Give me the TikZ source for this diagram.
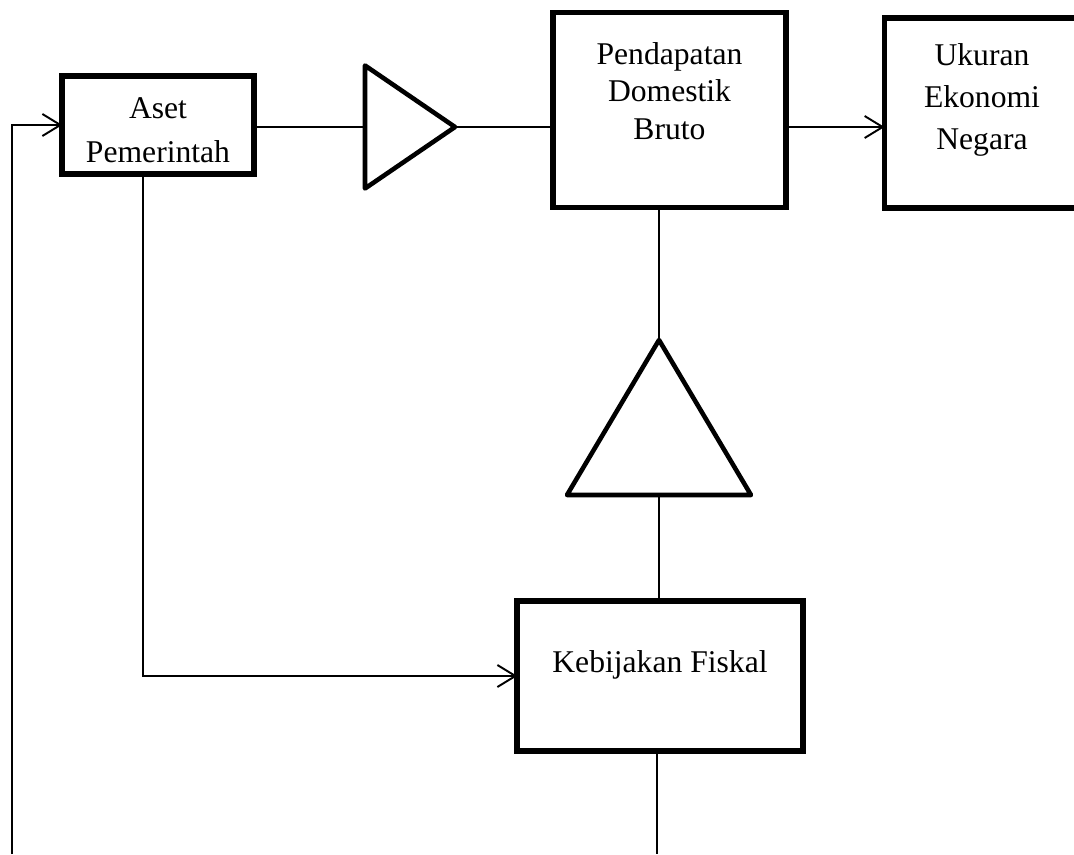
\documentclass[tikz,border=0pt]{standalone}
\usepackage{fontspec}
\setmainfont{Liberation Serif}
\usetikzlibrary{shapes.geometric, arrows.meta}
\tikzset{
  box/.style={draw, line width=3.2pt, inner sep=0pt, outer sep=0pt},
  amp/.style={isosceles triangle, isosceles triangle stretches, draw, line width=2.6pt, line join=round, inner sep=0pt, outer sep=0pt},
  link/.style={line width=1.1pt},
  arr/.style={link, -{Straight Barb[length=3.6mm, width=4.4mm, line width=1.1pt]}}
}
\begin{document}
\begin{tikzpicture}[font=\fontsize{18}{25}\selectfont]
\useasboundingbox (0, 0) rectangle (21.48, 17.08);
\clip (0, 0) rectangle (21.48, 17.08);
\node (aset) at (3.16, 14.58) [box, minimum width=3.83cm, minimum height=1.97cm, label={[yshift=-1mm, align=center]center:Aset\\Pemerintah}] {};
\node (pdb) at (13.39, 14.88) [box, minimum width=4.66cm, minimum height=3.9cm, label={[yshift=3.8mm, align=center, font=\fontsize{18}{21.5}\selectfont]center:Pendapatan\\Domestik\\Bruto}] {};
\node (ukuran) at (19.64, 14.82) [box, minimum width=3.9cm, minimum height=3.79cm, label={[yshift=2.6mm, align=center, font=\fontsize{18}{24}\selectfont]center:Ukuran\\Ekonomi\\Negara}] {};
\node (fiskal) at (13.2, 3.56) [box, minimum width=5.71cm, minimum height=2.99cm, label={[yshift=2.2mm]center:Kebijakan Fiskal}] {};
\node (tri1) at (9.10, 14.54) [amp, anchor=apex, minimum width=2.46cm, minimum height=1.8cm] {};
\node (tri2) at (13.18, 10.28) [amp, rotate=90, anchor=apex, minimum width=3.68cm, minimum height=3.1cm] {};
\coordinate (fbstart) at (0.24, 0);
\coordinate (fisout) at (13.14, 0);
\draw [link] (tri1.lower side -| aset.east) -- (tri1.lower side);
\draw [link] (tri1.apex) -- (tri1.apex -| pdb.west);
\draw [arr] (tri1.apex -| pdb.east) -- (tri1.apex -| ukuran.west);
\draw [link] (tri2.apex |- pdb.south) -- (tri2.apex);
\draw [link] (tri2.lower side) -- (tri2.lower side |- fiskal.north);
\draw [link] (fisout |- fiskal.south) -- (fisout);
\draw [arr] ([xshift=-3mm]aset.south) |- (fiskal.west);
\draw [arr] (fbstart) |- (aset.west);
\end{tikzpicture}
\end{document}
